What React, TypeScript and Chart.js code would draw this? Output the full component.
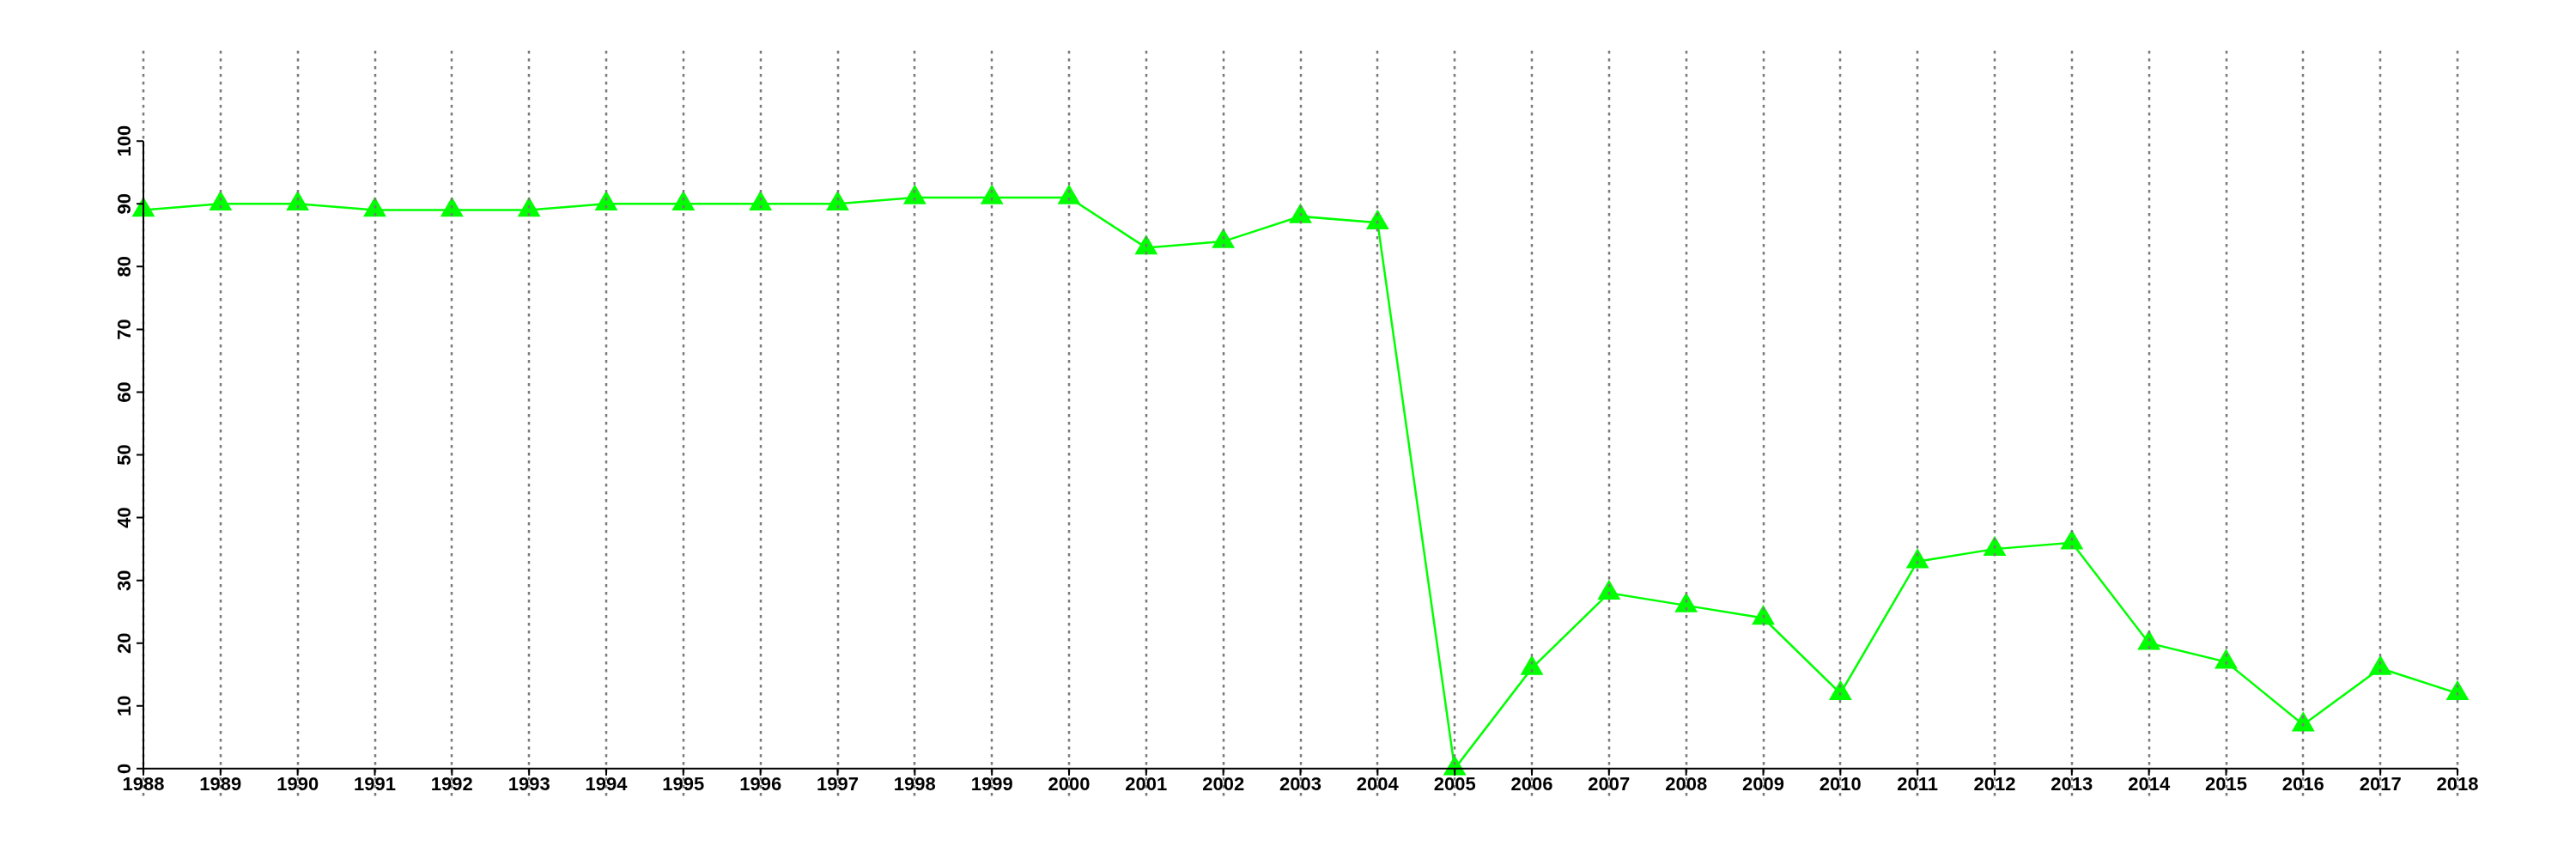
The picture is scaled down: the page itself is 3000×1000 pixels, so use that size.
import React, { useEffect, useRef } from "react";
import { Chart, registerables } from "chart.js";

Chart.register(...registerables);

const years: number[] = [
  1988, 1989, 1990, 1991, 1992, 1993, 1994, 1995, 1996, 1997, 1998, 1999, 2000,
  2001, 2002, 2003, 2004, 2005, 2006, 2007, 2008, 2009, 2010, 2011, 2012, 2013,
  2014, 2015, 2016, 2017, 2018,
];
const values: number[] = [
  89, 90, 90, 89, 89, 89, 90, 90, 90, 90, 91, 91, 91,
  83, 84, 88, 87, 0, 16, 28, 26, 24, 12, 33, 35, 36,
  20, 17, 7, 16, 12,
];
const yTicks: number[] = [0, 10, 20, 30, 40, 50, 60, 70, 80, 90, 100];

const FONT = 'bold 22px "Liberation Sans", Arial, Helvetica, sans-serif';

const axesPlugin = {
  id: "rAxes",
  afterDatasetsDraw(chart: any) {
    const { ctx, chartArea } = chart;
    const xs = chart.scales.x;
    const ys = chart.scales.y;
    ctx.save();
    // dotted vertical grid lines
    ctx.strokeStyle = "#7a7a7a";
    ctx.lineWidth = 2.5;
    ctx.setLineDash([3.5, 5.5]);
    for (const yr of years) {
      const x = Math.round(xs.getPixelForValue(yr));
      ctx.beginPath();
      ctx.moveTo(x, chartArea.top);
      ctx.lineTo(x, chartArea.bottom);
      ctx.stroke();
    }
    ctx.setLineDash([]);

    const x0 = xs.getPixelForValue(years[0]);
    const x1 = xs.getPixelForValue(years[years.length - 1]);
    const y0 = ys.getPixelForValue(0);
    const y1 = ys.getPixelForValue(yTicks[yTicks.length - 1]);

    ctx.strokeStyle = "#000";
    ctx.lineWidth = 2;
    // x axis
    ctx.beginPath();
    ctx.moveTo(x0, y0);
    ctx.lineTo(x1, y0);
    for (const yr of years) {
      const x = xs.getPixelForValue(yr);
      ctx.moveTo(x, y0);
      ctx.lineTo(x, y0 + 8);
    }
    ctx.stroke();
    // y axis
    ctx.beginPath();
    ctx.moveTo(x0, y0);
    ctx.lineTo(x0, y1);
    for (const t of yTicks) {
      const y = ys.getPixelForValue(t);
      ctx.moveTo(x0, y);
      ctx.lineTo(x0 - 8, y);
    }
    ctx.stroke();

    ctx.fillStyle = "#000";
    ctx.font = FONT;
    ctx.textAlign = "center";
    ctx.textBaseline = "alphabetic";
    for (const yr of years) {
      const x = xs.getPixelForValue(yr);
      ctx.fillText(String(yr), x, y0 + 25);
    }
    for (const t of yTicks) {
      const y = ys.getPixelForValue(t);
      ctx.save();
      ctx.translate(x0 - 15, y);
      ctx.rotate(-Math.PI / 2);
      ctx.fillText(String(t), 0, 0);
      ctx.restore();
    }
    ctx.restore();
  },
};

export default function App() {
  const ref = useRef<HTMLCanvasElement | null>(null);
  useEffect(() => {
    if (!ref.current) return;
    const chart = new Chart(ref.current, {
      type: "line",
      data: {
        datasets: [
          {
            data: years.map((yr, i) => ({ x: yr, y: values[i] })),
            borderColor: "#00ff00",
            borderWidth: 2.5,
            backgroundColor: "#00ff00",
            pointStyle: "triangle",
            pointRadius: 15.5,
            pointHoverRadius: 15.5,
            pointBackgroundColor: "#00ff00",
            pointBorderWidth: 0,
            pointBorderColor: "#00ff00",
            tension: 0,
            fill: false,
            clip: false as any,
          },
        ],
      },
      options: {
        animation: false,
        responsive: false,
        maintainAspectRatio: false,
        layout: { padding: { left: 167, right: 138, top: 59, bottom: 73 } },
        plugins: { legend: { display: false }, tooltip: { enabled: false } },
        events: [],
        scales: {
          x: { type: "linear", min: 1988, max: 2018, display: false },
          y: { type: "linear", min: -4.4, max: 114.4, display: false },
        },
      },
      plugins: [axesPlugin],
    });
    return () => chart.destroy();
  }, []);
  return (
    <div style={{ position: "absolute", left: 0, top: 0, width: 3000, height: 1000, background: "#fff" }}>
      <canvas ref={ref} width={3000} height={1000} style={{ display: "block", width: 3000, height: 1000 }} />
    </div>
  );
}
